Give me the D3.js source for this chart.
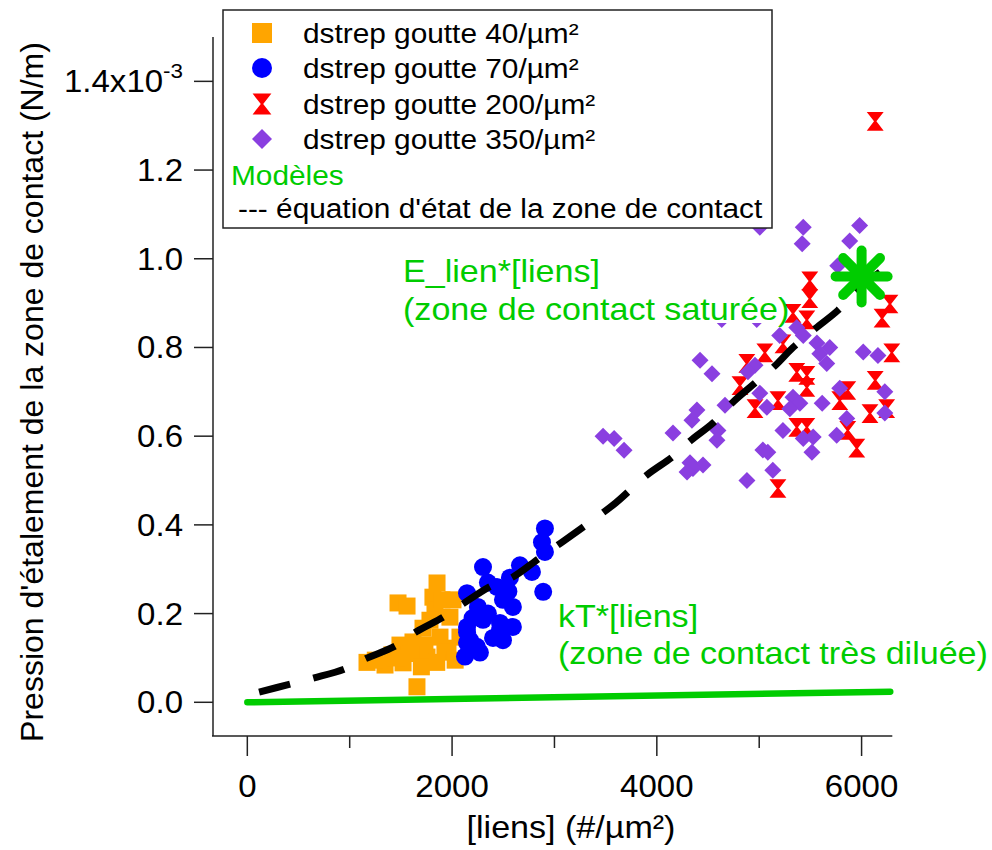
<!DOCTYPE html>
<html><head><meta charset="utf-8">
<script src="https://cdn.jsdelivr.net/npm/d3@7"></script>
<style>body{margin:0;background:#fff}svg{display:block}text{font-family:"Liberation Sans",Arial,sans-serif}</style>
</head><body>
<svg id="c" width="992" height="850"></svg>
<script>
// ---- data (y in units of 1e-3 N/m) ----
const series40 = [[1472,0.224],[1560,0.217],[1853,0.269],[1813,0.237],[1833,0.208],[2009,0.231],[1979,0.192],[1716,0.167],[1491,0.129],[1169,0.09],[1345,0.084],[1521,0.089],[1755,0.102],[1960,0.122],[2077,0.147],[1657,0.035],[1882,0.147],[1618,0.136],[1735,0.129],[1930,0.113],[1413,0.107],[1784,0.185],[1901,0.231],[2030,0.095],[1600,0.11],[1850,0.09],[1700,0.08],[1450,0.1],[1250,0.095]];
const series70 = [[2907,0.392],[2878,0.361],[2907,0.339],[2302,0.305],[2663,0.309],[2780,0.294],[2565,0.281],[2438,0.26],[2146,0.246],[2890,0.249],[2594,0.215],[2497,0.231],[2252,0.215],[2146,0.17],[2468,0.179],[2175,0.14],[2497,0.14],[2146,0.158],[2146,0.134],[2126,0.103],[2272,0.112],[2468,0.163],[2302,0.186],[2594,0.17],[2243,0.125],[2350,0.2],[2400,0.145],[2200,0.19],[2550,0.25],[2350,0.27]];
const series200 = [[6133,1.31],[5494,0.95],[5494,0.91],[5330,0.877],[5465,0.862],[6277,0.898],[6200,0.866],[6295,0.788],[5055,0.788],[5232,0.808],[4879,0.764],[4812,0.714],[5367,0.744],[5465,0.737],[5465,0.71],[4959,0.662],[5183,0.68],[5865,0.703],[5787,0.68],[6133,0.726],[6082,0.651],[6245,0.662],[5367,0.62],[5465,0.62],[5865,0.613],[5953,0.573],[5183,0.482]];
const series350 = [[5430,1.071],[5420,1.034],[5981,1.075],[5884,1.04],[5767,0.984],[5006,1.071],[4634,0.863],[4976,0.863],[5367,0.845],[5200,0.827],[5430,0.827],[5564,0.81],[5689,0.80],[5592,0.786],[5660,0.764],[6016,0.79],[6160,0.782],[4422,0.771],[4539,0.741],[4959,0.76],[4890,0.745],[5787,0.708],[6227,0.70],[5006,0.697],[5330,0.688],[5397,0.674],[5299,0.662],[5075,0.665],[5615,0.674],[4666,0.67],[4392,0.659],[4343,0.636],[4597,0.613],[4587,0.591],[4158,0.607],[5855,0.64],[5757,0.602],[5232,0.613],[5430,0.595],[5527,0.598],[5515,0.564],[6227,0.652],[5036,0.569],[5084,0.564],[4324,0.54],[4451,0.535],[4353,0.527],[5133,0.523],[4880,0.50],[4295,0.519],[3475,0.60],[3583,0.595],[3680,0.568]];
const eqState = [[115,0.023],[418,0.041],[653,0.055],[950,0.075],[1152,0.098],[1445,0.127],[1650,0.159],[1915,0.192],[2100,0.221],[2380,0.262],[2590,0.282],[2840,0.323],[3030,0.354],[3280,0.395],[3600,0.45],[3900,0.512],[4150,0.553],[4330,0.59],[4550,0.63],[4740,0.676],[4960,0.72],[5160,0.76],[5330,0.80],[5550,0.843],[5770,0.884],[5960,0.93],[6180,0.97]];
const kTLine = [[0,0],[6280,0.024]];
const saturated = [6000, 0.96];
const xTicksMajor = [0,2000,4000,6000];
const xTicksMinor = [1000,3000,5000];
const yTicks = [0,0.2,0.4,0.6,0.8,1.0,1.2,1.4];
const legendLabels = ["dstrep goutte 40/µm²","dstrep goutte 70/µm²","dstrep goutte 200/µm²","dstrep goutte 350/µm²"];

// ---- drawing ----
const svg = d3.select("#c");
const x = d3.scaleLinear().domain([-345,6300]).range([212,892.3]);
const y = d3.scaleLinear().domain([-0.076,1.5]).range([736,37]);
const GREEN = "#00cc00";
const colors = ["#ffa500","#0000ff","#ff0000","#8a3fe0"];
const SX = 1.065;
function txt(parent, px, py, str, size, anchor, fill){
  const g = parent.append("g").attr("transform",`translate(${px},${py}) scale(${SX},1)`);
  const t = g.append("text").attr("font-size",size).attr("text-anchor",anchor||"start").attr("fill",fill||"#000");
  if (str!==null) t.text(str);
  return t;
}

const shapes = {
  square: (g,s)=>g.append("rect").attr("x",-s/2).attr("y",-s/2).attr("width",s).attr("height",s),
  circle: (g,s)=>g.append("circle").attr("r",s/2),
  hour: (g,s)=>{const w=s*0.47,h=s*0.52;return g.append("path").attr("d",`M${-w},${-h}L${w},${-h}L1.2,0L${w},${h}L${-w},${h}L-1.2,0Z`);},
  diamond: (g,s)=>{const r=s/2;return g.append("path").attr("d",`M0,${-r}L${r},0L0,${r}L${-r},0Z`);}
};
const seriesList = [[series40,"square",17],[series70,"circle",18],[series200,"hour",18],[series350,"diamond",17]];

const plot = svg.append("g");
seriesList.forEach(([data,shape,size],i)=>{
  data.forEach(d=>{
    const g = plot.append("g").attr("transform",`translate(${x(d[0])},${y(d[1])})`);
    shapes[shape](g,size).attr("fill",colors[i]);
  });
});

// kT line
svg.append("path").datum(kTLine)
  .attr("d",d3.line().x(d=>x(d[0])).y(d=>y(d[1])))
  .attr("stroke",GREEN).attr("stroke-width",6.5).attr("stroke-linecap","round").attr("fill","none");

// equation of state dashed
svg.append("path").datum(eqState)
  .attr("d",d3.line().x(d=>x(d[0])).y(d=>y(d[1])).curve(d3.curveCatmullRom))
  .attr("stroke","#000").attr("stroke-width",7).attr("stroke-dasharray","32 24").attr("fill","none");

// asterisk
const ag = svg.append("g").attr("transform",`translate(${x(saturated[0])},${y(saturated[1])})`);
[0,45,90,135].forEach(a=>{
  const r=26, rad=a*Math.PI/180;
  ag.append("line").attr("x1",-r*Math.cos(rad)).attr("y1",-r*Math.sin(rad)).attr("x2",r*Math.cos(rad)).attr("y2",r*Math.sin(rad))
    .attr("stroke",GREEN).attr("stroke-width",10).attr("stroke-linecap","round");
});

// axes
const axCol="#222";
svg.append("line").attr("x1",213).attr("x2",213).attr("y1",37).attr("y2",736).attr("stroke",axCol).attr("stroke-width",1.5);
svg.append("line").attr("x1",212).attr("x2",892.3).attr("y1",736).attr("y2",736).attr("stroke",axCol).attr("stroke-width",1.5);
yTicks.forEach(t=>{
  svg.append("line").attr("x1",194).attr("x2",213).attr("y1",y(t)).attr("y2",y(t)).attr("stroke",axCol).attr("stroke-width",1.5);
  const tx = txt(svg,183,y(t)+11,null,31,"end");
  if (t===1.4){ tx.append("tspan").text("1.4x10"); tx.append("tspan").attr("font-size",21).attr("dy",-14).text("-3"); }
  else tx.text(t.toFixed(1));
});
xTicksMajor.forEach(t=>{
  svg.append("line").attr("x1",x(t)).attr("x2",x(t)).attr("y1",736).attr("y2",756).attr("stroke",axCol).attr("stroke-width",1.5);
  txt(svg,x(t),797,String(t),31,"middle");
});
xTicksMinor.forEach(t=>{
  svg.append("line").attr("x1",x(t)).attr("x2",x(t)).attr("y1",736).attr("y2",748).attr("stroke",axCol).attr("stroke-width",1.5);
});
txt(svg,571,838,"[liens] (#/µm²)",32,"middle");
svg.append("text").attr("transform","translate(43,392) rotate(-90)").attr("text-anchor","middle").attr("font-size",32)
  .text("Pression d'étalement de la zone de contact (N/m)");

// annotations
svg.append("rect").attr("x",401).attr("y",252).attr("width",384).attr("height",71).attr("fill","#fff");
txt(svg,403,282,"E_lien*[liens]",32,"start",GREEN);
txt(svg,403,320,"(zone de contact saturée)",32,"start",GREEN);
txt(svg,558,627,"kT*[liens]",32,"start",GREEN);
txt(svg,558,664,"(zone de contact très diluée)",32,"start",GREEN);

// legend
const lg = svg.append("g");
lg.append("rect").attr("x",223).attr("y",10).attr("width",549).attr("height",218).attr("fill","#fff").attr("stroke","#222").attr("stroke-width",1.5);
const rowsY=[33,68,104,139];
seriesList.forEach(([data,shape,size],i)=>{
  const g = lg.append("g").attr("transform",`translate(262,${rowsY[i]})`);
  shapes[shape](g,20).attr("fill",colors[i]);
  txt(lg,303,rowsY[i]+10,legendLabels[i],28,"start");
});
txt(lg,231,185,"Modèles",28,"start",GREEN);
txt(lg,238,218,"--- équation d'état de la zone de contact",28,"start");
</script>
</body></html>
